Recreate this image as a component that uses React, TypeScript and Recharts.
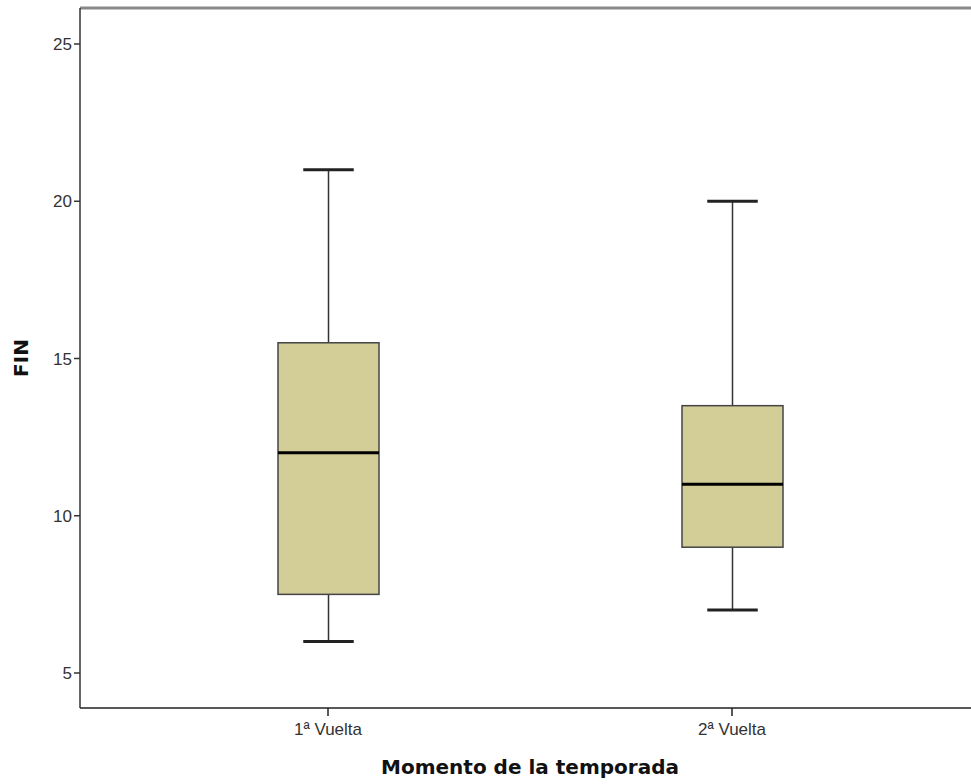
import { ComposedChart, Bar, XAxis, YAxis, ReferenceLine, Label } from "recharts";

// box plot stats
const groups = ["1ª Vuelta", "2ª Vuelta"];
const mins = [6, 7];
const q1s = [7.5, 9];
const medians = [12, 11];
const q3s = [15.5, 13.5];
const maxs = [21, 20];
const yTicks = [5, 10, 15, 20, 25];

const Y_MIN = 3.887;
const Y_MAX = 26.145;
const BOX_FILL = "#d3ce98";

const data = groups.map((g, i) => ({
  name: g,
  range: [mins[i], maxs[i]],
  min: mins[i],
  q1: q1s[i],
  median: medians[i],
  q3: q3s[i],
  max: maxs[i],
}));

function BoxShape(props: any) {
  const { x, y, width, height, payload } = props;
  const top = Math.min(y, y + height);
  const h = Math.abs(height);
  const span = payload.max - payload.min;
  const py = (v: number) => top + ((payload.max - v) / span) * h;
  const cx = x + width / 2;
  const capW = width / 2;
  return (
    <g>
      <line x1={cx} x2={cx} y1={py(payload.max)} y2={py(payload.q3)} stroke="#333" strokeWidth={1.5} />
      <line x1={cx} x2={cx} y1={py(payload.q1)} y2={py(payload.min)} stroke="#333" strokeWidth={1.5} />
      <line x1={cx - capW / 2} x2={cx + capW / 2} y1={py(payload.max)} y2={py(payload.max)} stroke="#222" strokeWidth={3} />
      <line x1={cx - capW / 2} x2={cx + capW / 2} y1={py(payload.min)} y2={py(payload.min)} stroke="#222" strokeWidth={3} />
      <rect
        x={x}
        y={py(payload.q3)}
        width={width}
        height={py(payload.q1) - py(payload.q3)}
        fill={BOX_FILL}
        stroke="#444"
        strokeWidth={1.5}
      />
      <line x1={x} x2={x + width} y1={py(payload.median)} y2={py(payload.median)} stroke="#000" strokeWidth={3} />
    </g>
  );
}

export default function App() {
  return (
    <div style={{ position: "fixed", left: 0, top: 0, width: 971, height: 784, overflow: "hidden", background: "#fff" }}>
      <ComposedChart
        width={1000}
        height={784}
        data={data}
        margin={{ top: 8, right: 20, bottom: 0, left: 0 }}
        style={{ fontFamily: "'Liberation Sans', Arial, sans-serif" }}
      >
        <XAxis
          dataKey="name"
          padding={{ left: 46, right: 46 }}
          stroke="#222"
          strokeWidth={1.5}
          tickSize={8}
          tick={{ fill: "#333", fontSize: 17, dy: 5 }}
          tickLine={{ stroke: "#222" }}
          height={76}
        >
          <Label
            value="Momento de la temporada"
            position="insideBottom"
            offset={10}
            style={{ fontFamily: "'DejaVu Sans', sans-serif", fontWeight: "bold", fontSize: 20, fill: "#111" }}
          />
        </XAxis>
        <YAxis
          type="number"
          domain={[Y_MIN, Y_MAX]}
          ticks={yTicks}
          allowDataOverflow
          stroke="#333"
          strokeWidth={1.5}
          tickSize={6}
          tick={{ fill: "#333", fontSize: 17 }}
          width={80}
        >
          <Label
            value="FIN"
            angle={-90}
            position="insideLeft"
            offset={21}
            style={{ fontFamily: "'DejaVu Sans', sans-serif", fontWeight: "bold", fontSize: 20, fill: "#111", textAnchor: "middle" }}
          />
        </YAxis>
        <ReferenceLine y={Y_MAX} stroke="#888" strokeWidth={3} />
        <Bar dataKey="range" barSize={101} shape={BoxShape} isAnimationActive={false} />
      </ComposedChart>
    </div>
  );
}
